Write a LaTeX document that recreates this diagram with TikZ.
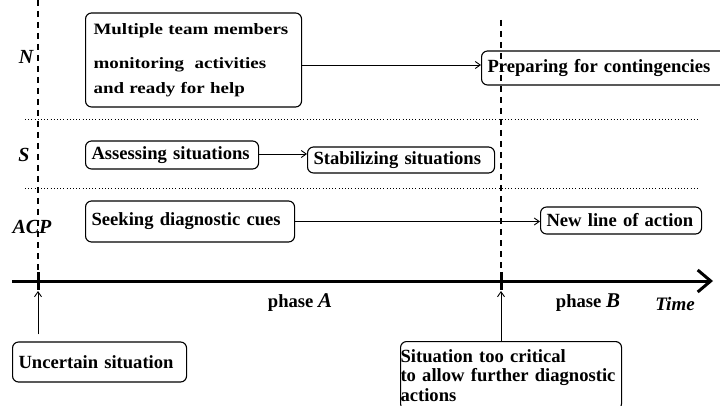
\documentclass[tikz,border=0pt]{standalone}
\usepackage{fontspec}
\setmainfont{Liberation Serif}
\newfontfamily\widefont{Liberation Serif}[FakeStretch=1.2]
\usetikzlibrary{arrows.meta,calc}
\begin{document}
\begin{tikzpicture}[x=1pt,y=-1pt,
  txt/.style={font=\fontsize{18.6}{22}\selectfont\bfseries},
  lbl/.style={font=\fontsize{20}{22}\selectfont\bfseries\itshape},
  box/.style={txt,draw,rounded corners=6pt,line width=1.1pt,inner xsep=6pt,inner ysep=2pt,align=left},
  conn/.style={line width=0.9pt,-{Straight Barb[length=5pt,width=7pt,line width=0.9pt]}},
  vdash/.style={line width=1.2pt,dash pattern=on 6pt off 5pt},
  hdot/.style={line width=0.6pt,dash pattern=on 1pt off 2.2pt},
  tick/.style={line width=3pt}]
\useasboundingbox (0,0) rectangle (720,406);
% time axis points
\coordinate (tA) at (38,281);
\coordinate (tB) at (501,281);
\coordinate (axs) at (12,281);
\coordinate (axe) at (713,281);
% vertical dashed lines
\coordinate (vA) at (38,0);
\coordinate (vB) at (501,20);
\draw[vdash] (vA) -- (tA);
\draw[vdash] (vB) -- (tB);
% dotted separators
\coordinate (d1s) at (25,119); \coordinate (d1e) at (700,119);
\coordinate (d2s) at (25,188); \coordinate (d2e) at (700,188);
\draw[hdot] (d1s) -- (d1e);
\draw[hdot] (d2s) -- (d2e);
% axis
\draw[line width=3pt,-{Straight Barb[length=13pt,width=22pt,line width=3pt]}] (axs) -- (axe);
\draw[tick] ($(tA)+(0,-9)$) -- ($(tA)+(0,9)$);
\draw[tick] ($(tB)+(0,-9)$) -- ($(tB)+(0,9)$);
% row labels
\node[lbl] (lN) at (26,57) {N};
\node[lbl] (lS) at (24,155) {S};
\node[lbl] (lACP) at (32,227) {ACP};
% boxes
\node[box,anchor=west,text width=200pt,inner xsep=8pt,minimum height=94pt,
  font=\widefont\fontsize{15.8}{25}\selectfont\bfseries] (team) at (85,60)
  {Multiple team members\\[9pt]monitoring\ \ activities\\and ready for help};
\node[box,anchor=west,text width=242pt,minimum height=34pt] (prep) at (481,68)
  {Preparing for contingencies};
\node[box,anchor=west,text width=161pt,minimum height=28pt] (assess) at (85,155) {Assessing situations};
\node[box,anchor=west,text width=175pt,minimum height=26pt] (stab) at (307,160) {Stabilizing situations};
\node[box,anchor=west,text width=197pt,minimum height=41pt] (seek) at (85,221.5) {Seeking diagnostic cues};
\node[box,anchor=west,text width=149pt,minimum height=27pt] (newl) at (540,220.5) {New line of action};
\node[box,anchor=west,text width=162pt,minimum height=40pt] (unc) at (12,362) {Uncertain situation};
\node[box,anchor=north west,inner xsep=0pt,inner ysep=8pt,text width=221pt,
  font=\fontsize{18.6}{19.5}\selectfont\bfseries] (sit) at (400,341)
  {Situation too critical\\to allow further diagnostic\\actions};
% phase labels
\node[txt] (pA) at (300,303) {phase {\fontsize{21}{22}\selectfont\itshape A}};
\node[txt] (pB) at (588,303) {phase {\fontsize{21}{22}\selectfont\itshape B}};
\node[txt,font=\fontsize{19}{22}\selectfont\bfseries\itshape] (time) at (675,304) {Time};
% connectors
\draw[conn] (team.east |- 0,65) -- (prep.west |- 0,65);
\draw[conn] (assess.east |- 0,154) -- (stab.west |- 0,154);
\draw[conn] (seek.east) -- (newl.west |- seek.east);
\draw[conn,shorten <=7pt,shorten >=10pt] (unc.north -| tA) -- (tA);
\draw[conn,shorten >=10pt] (sit.north -| tB) -- (tB);
\end{tikzpicture}
\end{document}
